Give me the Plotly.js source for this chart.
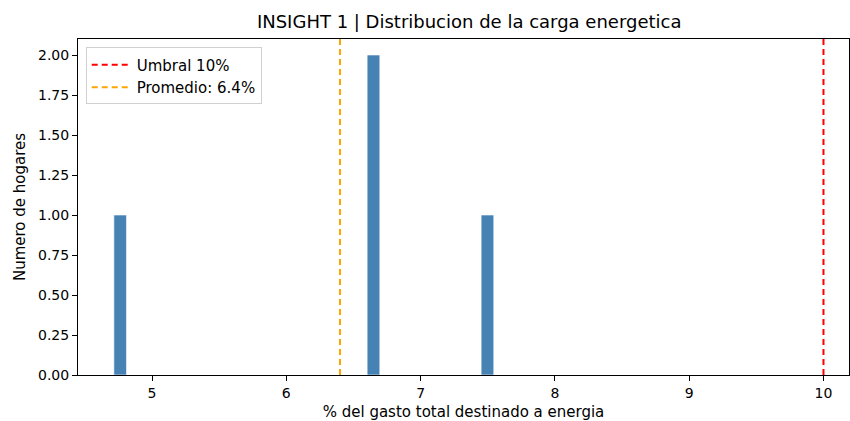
<!DOCTYPE html>
<html>
<head>
<meta charset="utf-8">
<script src="https://cdn.plot.ly/plotly-3.0.1.min.js"></script>
<style>html,body{margin:0;padding:0;background:#fff;}#chart{width:850px;height:421px;}</style>
</head>
<body>
<div id="chart"></div>
<script>
// Share of total spending on energy, per household (%)
const energyShare = [4.716, 6.66, 6.68, 7.54];
const thresholdValue = 10;
const meanValue = 6.4;
const yTickVals = [0, 0.25, 0.5, 0.75, 1.0, 1.25, 1.5, 1.75, 2.0];
const xTickVals = [5, 6, 7, 8, 9, 10];

const binStart = 4.716, binEnd = 7.545, nBins = 30;
const binSize = (binEnd - binStart) / nBins;

const traces = [
  {
    type: 'histogram',
    x: energyShare,
    xbins: {start: binStart, end: binEnd, size: binSize},
    marker: {color: '#4682b4', line: {color: '#ffffff', width: 0.6}},
    showlegend: false,
    hoverinfo: 'skip'
  },
  {
    type: 'scatter', mode: 'lines',
    x: [thresholdValue, thresholdValue], y: [0, 2.1],
    line: {color: '#ff0000', width: 2, dash: '6px,4px'},
    name: 'Umbral 10%'
  },
  {
    type: 'scatter', mode: 'lines',
    x: [meanValue, meanValue], y: [0, 2.1],
    line: {color: '#ffa500', width: 2, dash: '6px,4px'},
    name: 'Promedio: ' + meanValue.toFixed(1) + '%'
  }
];

const layout = {
  width: 850, height: 421,
  margin: {l: 78, r: 1, t: 39, b: 46},
  paper_bgcolor: '#ffffff', plot_bgcolor: '#ffffff',
  font: {family: 'DejaVu Sans, sans-serif', color: '#000', size: 14},
  title: {text: 'INSIGHT 1 | Distribucion de la carga energetica', font: {size: 18}, x: 0.552, xanchor: 'center', y: 0.963, yanchor: 'top'},
  showlegend: true,
  legend: {x: 0.01, y: 0.975, xanchor: 'left', yanchor: 'top', bgcolor: 'rgba(255,255,255,0.8)', bordercolor: '#d0d0d0', borderwidth: 1, font: {size: 15}, tracegroupgap: 0, itemwidth: 40},
  bargap: 0,
  xaxis: {
    range: [4.449, 10.19], tickvals: xTickVals, ticktext: xTickVals.map(String),
    ticks: 'outside', ticklen: 5, tickcolor: '#000', showgrid: false, zeroline: false,
    showline: true, linecolor: '#000', linewidth: 1, mirror: true,
    tickfont: {size: 14},
    title: {text: '% del gasto total destinado a energia', font: {size: 15}, standoff: 10}
  },
  yaxis: {
    range: [0, 2.1], tickvals: yTickVals, ticktext: yTickVals.map(v => v.toFixed(2)),
    ticks: 'outside', ticklen: 5, tickcolor: '#000', showgrid: false, zeroline: false,
    showline: true, linecolor: '#000', linewidth: 1, mirror: true,
    tickfont: {size: 14},
    title: {text: 'Numero de hogares', font: {size: 15}, standoff: 8}
  }
};

Plotly.newPlot('chart', traces, layout, {displayModeBar: false, staticPlot: true});
</script>
</body>
</html>
